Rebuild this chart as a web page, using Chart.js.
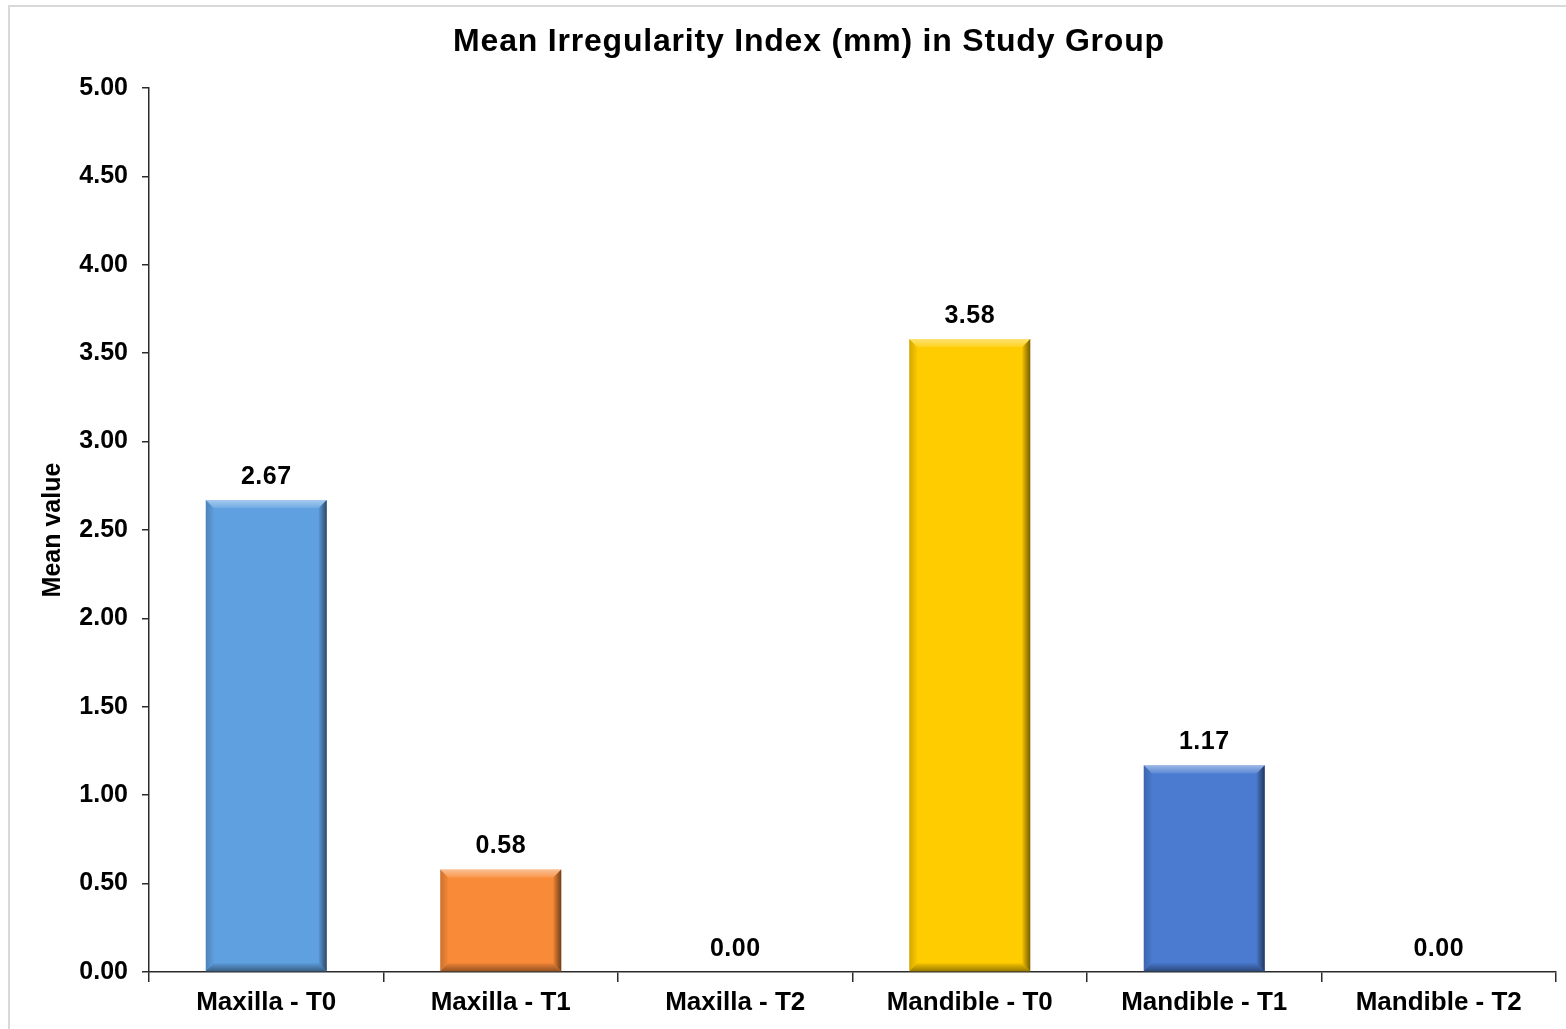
<!DOCTYPE html>
<html>
<head>
<meta charset="utf-8">
<title>Mean Irregularity Index</title>
<script src="https://cdn.jsdelivr.net/npm/chart.js@4.4.1/dist/chart.umd.min.js"></script>
<style>
  html, body { margin: 0; padding: 0; background: #ffffff; }
  #wrap { position: relative; width: 1566px; height: 1029px; }
  canvas { display: block; }
</style>
</head>
<body>
<div id="wrap"><canvas id="chart" width="1566" height="1029"></canvas></div>
<script>
// Chart data
const chartTitle = 'Mean Irregularity Index (mm) in Study Group';
const categories = ['Maxilla - T0', 'Maxilla - T1', 'Maxilla - T2', 'Mandible - T0', 'Mandible - T1', 'Mandible - T2'];
const meanValues = [2.67, 0.58, 0.00, 3.58, 1.17, 0.00];
const barColors = ['#5FA0E0', '#F88A38', '#5FA0E0', '#FFCC00', '#4A7BD0', '#4A7BD0'];
const yTicks = [0, 0.5, 1, 1.5, 2, 2.5, 3, 3.5, 4, 4.5, 5];

const FONT = '"Liberation Sans", Arial, sans-serif';
const AXIS_COLOR = '#2b2b2b';

// White background, thin grey frame and the chart heading
const framePlugin = {
  id: 'frame',
  beforeDraw(chart) {
    const ctx = chart.ctx;
    ctx.save();
    ctx.fillStyle = '#ffffff';
    ctx.fillRect(0, 0, chart.width, chart.height);
    ctx.strokeStyle = '#d9d9d9';
    ctx.lineWidth = 2;
    ctx.strokeRect(9, 6, chart.width + 20, chart.height + 20);
    ctx.restore();
  },
  afterDraw(chart) {
    const ctx = chart.ctx;
    ctx.save();
    ctx.font = 'bold 32px ' + FONT;
    if ('letterSpacing' in ctx) ctx.letterSpacing = '0.8px';
    ctx.fillStyle = '#000000';
    ctx.textAlign = 'center';
    ctx.textBaseline = 'middle';
    ctx.fillText(chartTitle, 809, 42);
    ctx.restore();
  }
};

// Bevelled edges on each bar plus the value label above it
const bevelPlugin = {
  id: 'bevel',
  afterDatasetsDraw(chart) {
    const ctx = chart.ctx;
    const meta = chart.getDatasetMeta(0);
    meta.data.forEach((bar, i) => {
      const L = bar.x - bar.width / 2;
      const R = bar.x + bar.width / 2;
      const T = Math.min(bar.y, bar.base);
      const B = Math.max(bar.y, bar.base);
      const h = B - T;
      if (h > 1) {
        const b = Math.min(8, h / 2);
        ctx.save();
        // top highlight
        let g = ctx.createLinearGradient(0, T, 0, T + b);
        g.addColorStop(0, 'rgba(255,255,255,0.45)');
        g.addColorStop(1, 'rgba(255,255,255,0.12)');
        ctx.fillStyle = g;
        ctx.beginPath();
        ctx.moveTo(L, T); ctx.lineTo(R, T); ctx.lineTo(R - b, T + b); ctx.lineTo(L + b, T + b);
        ctx.closePath(); ctx.fill();
        // left edge
        g = ctx.createLinearGradient(L, 0, L + b, 0);
        g.addColorStop(0, 'rgba(0,0,0,0.18)');
        g.addColorStop(1, 'rgba(0,0,0,0.02)');
        ctx.fillStyle = g;
        ctx.beginPath();
        ctx.moveTo(L, T); ctx.lineTo(L + b, T + b); ctx.lineTo(L + b, B - b); ctx.lineTo(L, B);
        ctx.closePath(); ctx.fill();
        // right edge
        g = ctx.createLinearGradient(R - b, 0, R, 0);
        g.addColorStop(0, 'rgba(0,0,0,0.05)');
        g.addColorStop(1, 'rgba(0,0,0,0.55)');
        ctx.fillStyle = g;
        ctx.beginPath();
        ctx.moveTo(R, T); ctx.lineTo(R, B); ctx.lineTo(R - b, B - b); ctx.lineTo(R - b, T + b);
        ctx.closePath(); ctx.fill();
        // bottom edge
        g = ctx.createLinearGradient(0, B - b, 0, B);
        g.addColorStop(0, 'rgba(0,0,0,0.05)');
        g.addColorStop(1, 'rgba(0,0,0,0.40)');
        ctx.fillStyle = g;
        ctx.beginPath();
        ctx.moveTo(L, B); ctx.lineTo(R, B); ctx.lineTo(R - b, B - b); ctx.lineTo(L + b, B - b);
        ctx.closePath(); ctx.fill();
        ctx.restore();
      }
      // value label
      ctx.save();
      ctx.font = 'bold 25px ' + FONT;
      if ('letterSpacing' in ctx) ctx.letterSpacing = '0.5px';
      ctx.fillStyle = '#000000';
      ctx.textAlign = 'center';
      ctx.textBaseline = 'middle';
      ctx.fillText(meanValues[i].toFixed(2), bar.x, T - 23);
      ctx.restore();
    });
  }
};

new Chart(document.getElementById('chart'), {
  type: 'bar',
  data: {
    labels: categories,
    datasets: [{
      label: 'Mean value',
      data: meanValues,
      backgroundColor: barColors,
      borderWidth: 0,
      categoryPercentage: 1.0,
      barPercentage: 0.516
    }]
  },
  options: {
    responsive: false,
    animation: false,
    devicePixelRatio: 1,
    layout: { padding: { left: 0, right: 10, top: 88, bottom: 0 } },
    plugins: {
      legend: { display: false },
      tooltip: { enabled: false },
      title: { display: false }
    },
    scales: {
      x: {
        offset: true,
        grid: {
          display: true,
          offset: true,
          drawOnChartArea: false,
          drawTicks: true,
          tickLength: 10,
          color: AXIS_COLOR,
          lineWidth: 1.5
        },
        border: { display: true, color: AXIS_COLOR, width: 1.5 },
        ticks: {
          color: '#000000',
          padding: 5,
          maxRotation: 0,
          autoSkip: false,
          font: { family: FONT, size: 26, weight: 'bold', lineHeight: 1.2 }
        },
        afterFit(scale) { scale.height = 57; }
      },
      y: {
        min: 0,
        max: 5,
        afterBuildTicks(scale) { scale.ticks = yTicks.map(v => ({ value: v })); },
        grid: {
          display: true,
          drawOnChartArea: false,
          drawTicks: true,
          tickLength: 7,
          color: AXIS_COLOR,
          lineWidth: 1.5
        },
        border: { display: true, color: AXIS_COLOR, width: 1.5 },
        ticks: {
          color: '#000000',
          padding: 14,
          font: { family: FONT, size: 25, weight: 'bold', lineHeight: 1.2 },
          callback: (v) => Number(v).toFixed(2)
        },
        title: {
          display: true,
          text: 'Mean value',
          color: '#000000',
          font: { family: FONT, size: 25, weight: 'bold', lineHeight: 1.2 },
          padding: { top: 38, bottom: 0 }
        },
        afterFit(scale) { scale.width = 149; }
      }
    }
  },
  plugins: [framePlugin, bevelPlugin]
});
</script>
</body>
</html>
